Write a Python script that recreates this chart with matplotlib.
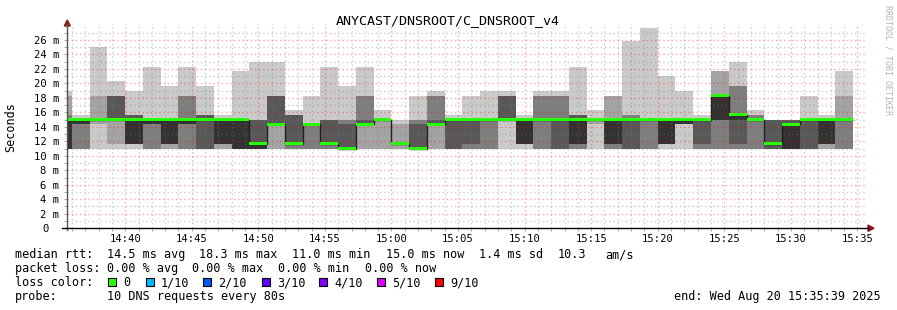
import numpy as np
import matplotlib
matplotlib.use("Agg")
import matplotlib.pyplot as plt
import matplotlib.transforms as mtransforms
from matplotlib.patches import Rectangle, Polygon
from matplotlib.lines import Line2D

plt.rcParams['font.family'] = ['DejaVu Sans Mono']

# time in seconds since 14:00:00, one probe round every 80 s
step_first = 2080          # 14:34:40
step_len = 80
view_start, view_end = 2139, 5739   # 14:35:39 .. 15:35:39

# sorted ping times (ms) per round, p1 = fastest .. p10 = slowest
p1 = [11, 11, 11, 11, 11, 11, 11, 11, 11, 11, 11, 11, 11, 11, 11, 11, 11, 11, 11, 11, 11, 11, 11,
      11, 11, 11, 11, 11, 11, 11, 11, 11, 11, 11, 11, 11, 11, 11, 11, 11, 11, 11, 11, 11, 11]
p2 = [11, 11, 14.33, 11.67, 11.67, 11, 11, 11, 11, 11, 11, 11, 11, 11, 11, 11, 11, 11, 11, 11, 11, 11, 11,
      11, 11, 15, 11.67, 11, 11, 11, 14.33, 11, 11, 11, 11.67, 14.33, 11, 11, 11, 11, 11, 11, 11, 11, 11]
p3 = [11, 11, 15, 15, 11.67, 11, 11.67, 11, 11, 11.67, 11, 11, 14.33, 11, 11, 11, 11, 14.33, 15, 11.67, 11, 14.33, 11,
      11, 11, 15, 11.67, 11, 11, 11, 15, 11, 11, 11, 11.67, 14.33, 11, 11, 11, 11, 11, 11, 11, 11.67, 11]
p4 = [11, 14.33, 15, 15, 11.67, 14.33, 11.67, 14.33, 11, 11.67, 11, 11, 14.33, 11.67, 14.33, 11.67, 11, 14.33, 15, 11.67, 11, 14.33, 11,
      11.67, 15, 15, 11.67, 15, 11, 11.67, 15, 11.67, 11, 15, 11.67, 14.33, 11.67, 15, 11.67, 15, 11, 11, 11, 11.67, 15]
p5 = [11, 14.33, 15, 15, 11.67, 14.33, 11.67, 14.33, 15, 11.67, 11, 11, 14.33, 11.67, 14.33, 11.67, 11, 14.33, 15, 11.67, 11, 14.33, 15,
      15, 15, 15, 11.67, 15, 15, 11.67, 15, 11.67, 15, 15, 11.67, 14.33, 15, 15, 15, 15, 11.67, 11, 15, 11.67, 15]
p6 = [15, 15, 15, 15, 15, 15, 15, 15, 15, 15, 15, 11.67, 14.33, 11.67, 14.33, 11.67, 11, 14.33, 15, 11.67, 11, 14.33, 15,
      15, 15, 15, 15, 15, 15, 15, 15, 15, 15, 15, 15, 15, 15, 18.33, 15.67, 15, 11.67, 14.33, 15, 15, 15]
p7 = [15, 15, 15, 18.33, 15.67, 15, 15, 15, 15.67, 15, 15, 15, 18.33, 15.67, 14.33, 15, 14.33, 15, 15, 11.67, 14.33, 15, 15,
      15, 15, 18.33, 15, 15, 15, 15.67, 15, 15, 15, 15, 15, 15, 15, 18.33, 15.67, 15, 15, 15, 15, 15, 15]
p8 = [15.67, 15, 15, 18.33, 15.67, 15, 15, 18.33, 15.67, 15, 15, 15, 18.33, 15.67, 14.33, 15, 15, 18.33, 15, 11.67, 15, 18.33, 15,
      15, 15, 18.33, 15, 18.33, 18.33, 15.67, 15, 15, 15.67, 15, 15, 15, 15, 18.33, 19.67, 15.67, 15, 15, 15, 15, 15]
p9 = [18.33, 15, 18.33, 18.33, 15.67, 15, 15, 18.33, 15.67, 15, 15, 15, 18.33, 15.67, 14.33, 15, 15, 18.33, 15, 14.33, 15, 18.33, 15,
      15, 15, 18.33, 15, 18.33, 18.33, 15.67, 15, 18.33, 15.67, 15, 15, 15, 15, 21.67, 19.67, 15.67, 15, 15, 15, 15, 18.33]
p10 = [19, 15.67, 25, 20.33, 19, 22.33, 19.67, 22.33, 19.67, 15.67, 21.67, 23, 23, 16.33, 18.33, 22.33, 19.67, 22.33, 16.33, 15, 18.33, 19, 15.67,
       18.33, 19, 19, 15.67, 19, 19, 22.33, 16.33, 18.33, 25.85, 27.67, 21, 19, 15.67, 21.67, 23, 16.33, 15, 15, 18.33, 15.67, 21.67]

ytick_vals = [0, 2, 4, 6, 8, 10, 12, 14, 16, 18, 20, 22, 24, 26]
ytick_labels = ["0", "2 m", "4 m", "6 m", "8 m", "10 m", "12 m", "14 m", "16 m", "18 m",
                "20 m", "22 m", "24 m", "26 m"]
xtick_vals = [2400, 2700, 3000, 3300, 3600, 3900, 4200, 4500, 4800, 5100, 5400, 5700]
xtick_labels = ["14:40", "14:45", "14:50", "14:55", "15:00", "15:05", "15:10", "15:15",
                "15:20", "15:25", "15:30", "15:35"]

loss_names = ["0", "1/10", "2/10", "3/10", "4/10", "5/10", "9/10"]
loss_colors = ["#26ff00", "#00b8ff", "#0059ff", "#5e00ff", "#7e00ff", "#dd00ff", "#ff0000"]

W, H = 897, 310
fig = plt.figure(figsize=(W / 100, H / 100), dpi=100)
fig.patch.set_facecolor('white')

x0, x1 = 67.3, 866.1
y0, y1 = 228.2, 25.5
ax = fig.add_axes([x0 / W, 1 - y0 / H, (x1 - x0) / W, (y0 - y1) / H])
ax.set_xlim(view_start, view_end)
ax.set_ylim(0, 28)
for s in ax.spines.values():
    s.set_visible(False)

pings = np.array([p1, p2, p3, p4, p5, p6, p7, p8, p9, p10])
edges = step_first + step_len * np.arange(pings.shape[1] + 1)

# smoke: nested bands, outer = light
smoke_cols = ['#cacaca', '#a4a4a4', '#7e7e7e', '#585858', '#323232']
for i, c in enumerate(smoke_cols):
    ax.stairs(pings[9 - i], edges, baseline=pings[i], fill=True, color=c,
              linewidth=0, zorder=1)

# grid
minor_x = np.arange(2160, 5760, 60)
for t in minor_x:
    if t not in xtick_vals:
        ax.axvline(t, color=(0.5, 0.5, 0.5, 0.4), lw=1, ls=(0, (1, 2)), zorder=2)
for v in range(1, 28):
    if v not in ytick_vals:
        ax.axhline(v, color=(0.5, 0.5, 0.5, 0.4), lw=1, ls=(0, (1, 2)), zorder=2)
for t in xtick_vals:
    ax.axvline(t, color=(1, 0, 0, 0.35), lw=1, ls=(0, (1, 2)), zorder=2)
for v in ytick_vals[1:]:
    ax.axhline(v, color=(1, 0, 0, 0.35), lw=1, ls=(0, (1, 2)), zorder=2)

# median line + loss coloured band
median = pings[5]
sw = 0.23
ax.stairs(median, edges, baseline=None, color='#202020', lw=1, zorder=3)
ax.stairs(median + sw, edges, baseline=median - sw, fill=True, color=loss_colors[0],
          linewidth=0, zorder=4)

ax.set_xticks(list(minor_x))
ax.set_xticklabels([])
ax.set_yticks(list(range(0, 28)))
ax.set_yticklabels([])
ax.tick_params(axis='both', length=2, width=0.7, color='#aaaaaa')

# tick labels
offs = mtransforms.ScaledTranslation(0, -3.8 / 100, fig.dpi_scale_trans)
ytr = mtransforms.blended_transform_factory(fig.transFigure, ax.transData) + offs
for v, lab in zip(ytick_vals, ytick_labels):
    xr = 59.5 if lab != "0" else 48.5
    ax.text(xr / W, v, lab, transform=ytr, ha='right', va='baseline', fontsize=7.6,
            color='black')
xtr = mtransforms.blended_transform_factory(ax.transData, fig.transFigure)
for t, lab in zip(xtick_vals, xtick_labels):
    ax.text(t, 1 - 242 / H, lab, transform=xtr, ha='center', va='baseline', fontsize=7.6)

# axes lines and arrows
fig.add_artist(Line2D([x0 / W, x0 / W], [1 - 230 / H, 1 - 24 / H], color='#555555', lw=1,
                      transform=fig.transFigure))
fig.add_artist(Line2D([62 / W, 869 / W], [1 - y0 / H, 1 - y0 / H], color='black', lw=1,
                      transform=fig.transFigure))
fig.add_artist(Polygon([[(x0 - 3) / W, 1 - 26 / H], [(x0 + 3) / W, 1 - 26 / H], [x0 / W, 1 - 20 / H]],
                       closed=True, color='#8b1a1a', transform=fig.transFigure))
fig.add_artist(Polygon([[868 / W, 1 - 225 / H], [868 / W, 1 - 231.4 / H], [874 / W, 1 - y0 / H]],
                       closed=True, color='#8b1a1a', transform=fig.transFigure))

# title and side texts
fig.text(447.7 / W, 1 - 24.5 / H, "ANYCAST/DNSROOT/C_DNSROOT_v4", ha='center', va='baseline',
         fontsize=9.6)
fig.text(11 / W, 1 - 127 / H, "Seconds", rotation=90, ha='center', va='center', fontsize=8.5)
fig.text(888 / W, 1 - 60 / H, "RRDTOOL / TOBI OETIKER", rotation=270, ha='center', va='center',
         fontsize=6, color='#b4b4b4')

# legend block
def put(x, ybase, s, **kw):
    fig.text(x / W, 1 - ybase / H, s, va='baseline', fontsize=8.5, **kw)

put(15, 258.3, "median rtt:")
put(106.7, 258.3, "14.5 ms avg")
put(199, 258.3, "18.3 ms max")
put(292.3, 258.3, "11.0 ms min")
put(385.7, 258.3, "15.0 ms now")
put(479, 258.3, "1.4 ms sd")
put(557.3, 258.3, "10.3")
put(605.7, 258.3, "am/s")

put(15, 272.2, "packet loss:")
put(106.7, 272.2, "0.00 % avg")
put(192.3, 272.2, "0.00 % max")
put(278.3, 272.2, "0.00 % min")
put(364.7, 272.2, "0.00 % now")

put(15, 286.1, "loss color:")
sq_x = [108, 145.7, 202.7, 261.7, 319, 376.7, 435]
for sx, name, col in zip(sq_x, loss_names, loss_colors):
    fig.add_artist(Rectangle((sx / W, 1 - 285.5 / H), 8 / W, 8 / H, facecolor=col,
                             edgecolor='black', lw=0.8, transform=fig.transFigure))
    put(sx + 15, 286.1, name)

put(15, 300, "probe:")
put(106.7, 300, "10 DNS requests every 80s")
put(880.5, 300, "end: Wed Aug 20 15:35:39 2025", ha='right')

fig.savefig("out.png", dpi=100, facecolor='white')
